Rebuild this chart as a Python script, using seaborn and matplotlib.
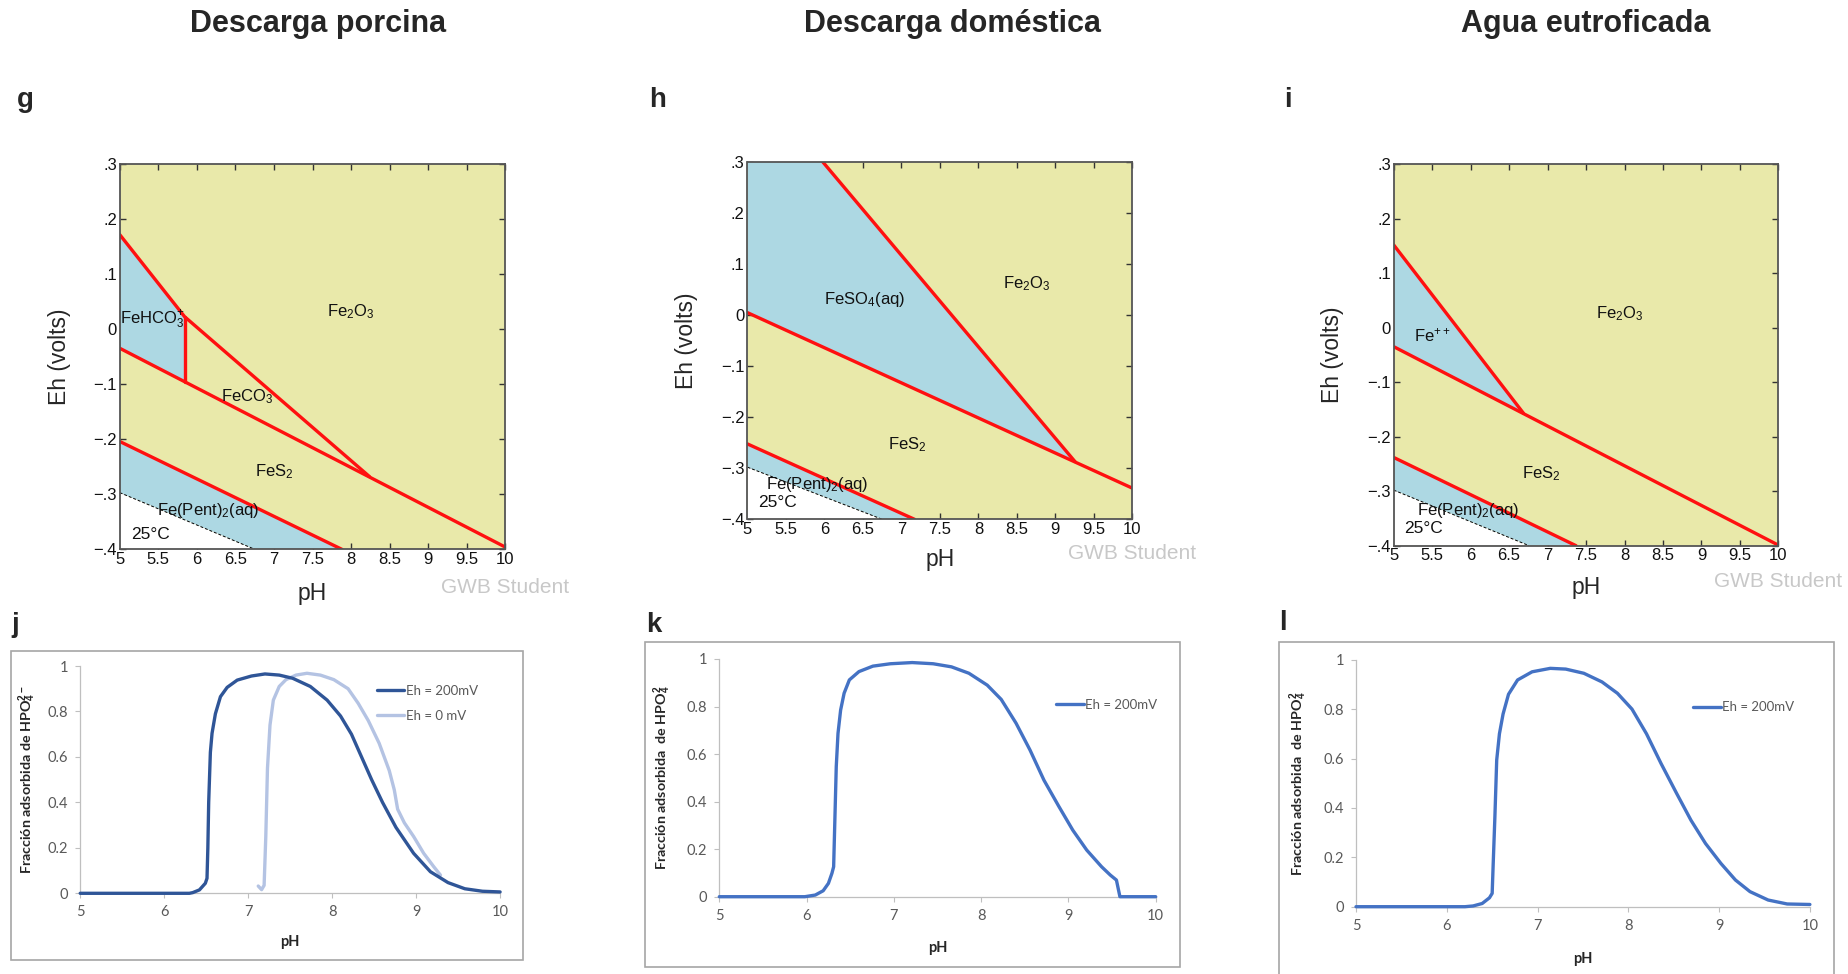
import numpy as np
import matplotlib
matplotlib.use("Agg")
import matplotlib.pyplot as plt
import seaborn as sns
from matplotlib.patches import Rectangle

# ------------------------------------------------------------------ data
TITLES = ["Descarga porcina", "Descarga doméstica", "Agua eutroficada"]
TOP_LETTERS = ["g", "h", "i"]
BOTTOM_LETTERS = ["j", "k", "l"]

PH_TICKS = [5, 5.5, 6, 6.5, 7, 7.5, 8, 8.5, 9, 9.5, 10]
PH_TICK_LABELS = ["5", "5.5", "6", "6.5", "7", "7.5", "8", "8.5", "9", "9.5", "10"]
EH_TICKS = [-0.4, -0.3, -0.2, -0.1, 0.0, 0.1, 0.2, 0.3]
EH_TICK_LABELS = ["\u2212.4", "\u2212.3", "\u2212.2", "\u2212.1", "0", ".1", ".2", ".3"]

# --- panel g (Descarga porcina): boundary lines (pH, Eh)
g_a_ph = [5.0, 5.84, 8.24]
g_a_eh = [0.172, 0.023, -0.268]
g_b_ph = [5.0, 10.0]
g_b_eh = [-0.0345, -0.396]
g_v_ph = [5.84, 5.84]
g_v_eh = [0.023, -0.095]
g_c_ph = [5.0, 7.88]
g_c_eh = [-0.204, -0.400]
g_w_ph = [5.0, 6.75]
g_w_eh = [-0.297, -0.400]
g_labels = [("Fe$_2$O$_3$", 8.0, 0.032, "center"),
            ("FeHCO$_3^{+}$", 5.0, 0.017, "left"),
            ("FeCO$_3$", 6.65, -0.122, "center"),
            ("FeS$_2$", 7.0, -0.259, "center"),
            ("Fe(Pent)$_2$(aq)", 6.14, -0.329, "center"),
            ("25°C", 5.4, -0.374, "center")]

# --- panel h (Descarga doméstica)
h_a_ph = [5.976, 9.255]
h_a_eh = [0.300, -0.287]
h_b_ph = [5.0, 10.0]
h_b_eh = [0.0045, -0.339]
h_c_ph = [5.0, 7.17]
h_c_eh = [-0.2525, -0.400]
h_w_ph = [5.0, 6.75]
h_w_eh = [-0.298, -0.400]
h_labels = [("Fe$_2$O$_3$", 8.63, 0.062, "center"),
            ("FeSO$_4$(aq)", 6.52, 0.031, "center"),
            ("FeS$_2$", 7.07, -0.2545, "center"),
            ("Fe(Pent)$_2$(aq)", 5.9, -0.332, "center"),
            ("25°C", 5.39, -0.368, "center")]

# --- panel i (Agua eutroficada)
i_a_ph = [5.0, 6.687]
i_a_eh = [0.152, -0.157]
i_b_ph = [5.0, 10.0]
i_b_eh = [-0.0347, -0.399]
i_c_ph = [5.0, 7.37]
i_c_eh = [-0.238, -0.400]
i_w_ph = [5.0, 6.76]
i_w_eh = [-0.298, -0.400]
i_labels = [("Fe$_2$O$_3$", 7.94, 0.0265, "center"),
            ("Fe$^{++}$", 5.5, -0.014, "center"),
            ("FeS$_2$", 6.92, -0.267, "center"),
            ("Fe(Pent)$_2$(aq)", 5.97, -0.335, "center"),
            ("25°C", 5.39, -0.369, "center")]

# --- bottom panels: adsorbed fraction of HPO4 2- vs pH
j_dark_ph = [5.0, 6.0, 6.3, 6.34, 6.42, 6.49, 6.51, 6.52, 6.53, 6.55, 6.57, 6.61,
             6.67, 6.75, 6.87, 7.04, 7.2, 7.37, 7.53, 7.74, 7.94, 8.1, 8.23, 8.35,
             8.47, 8.6, 8.76, 8.97, 9.17, 9.38, 9.58, 9.79, 10.0]
j_dark_y = [0.0, 0.0, 0.0, 0.003, 0.015, 0.044, 0.066, 0.2, 0.4, 0.62, 0.704, 0.79,
            0.865, 0.906, 0.938, 0.956, 0.965, 0.96, 0.946, 0.91, 0.85, 0.78, 0.70, 0.60,
            0.50, 0.40, 0.29, 0.176, 0.095, 0.047, 0.02, 0.009, 0.006]
j_light_ph = [7.12, 7.16, 7.19, 7.21, 7.23, 7.26, 7.3, 7.37, 7.45, 7.57, 7.7, 7.86,
              8.02, 8.19, 8.31, 8.43, 8.56, 8.68, 8.74, 8.78, 8.86, 8.97, 9.09, 9.21, 9.29]
j_light_y = [0.032, 0.016, 0.035, 0.25, 0.55, 0.74, 0.85, 0.91, 0.94, 0.96, 0.968, 0.96,
             0.94, 0.90, 0.836, 0.76, 0.66, 0.54, 0.455, 0.37, 0.31, 0.25, 0.176, 0.117, 0.08]
k_ph = [5.0, 5.98, 6.1, 6.19, 6.25, 6.29, 6.31, 6.32, 6.34, 6.36, 6.39, 6.43, 6.49,
        6.6, 6.76, 6.96, 7.21, 7.45, 7.66, 7.86, 8.07, 8.23, 8.4, 8.56, 8.72, 8.89,
        9.05, 9.21, 9.38, 9.48, 9.55, 9.59, 10.0]
k_y = [0.0, 0.0, 0.007, 0.025, 0.056, 0.098, 0.126, 0.266, 0.547, 0.687, 0.785, 0.856,
       0.912, 0.947, 0.97, 0.98, 0.985, 0.98, 0.967, 0.94, 0.89, 0.83, 0.73, 0.617, 0.49,
       0.38, 0.28, 0.196, 0.126, 0.091, 0.07, 0.0, 0.0]
l_ph = [5.0, 6.2, 6.29, 6.39, 6.47, 6.5, 6.51, 6.53, 6.55, 6.58, 6.62, 6.68, 6.78,
        6.94, 7.14, 7.31, 7.51, 7.71, 7.88, 8.04, 8.2, 8.36, 8.53, 8.69, 8.85, 9.02,
        9.18, 9.34, 9.54, 9.75, 10.0]
l_y = [0.0, 0.0, 0.003, 0.013, 0.036, 0.054, 0.16, 0.364, 0.594, 0.70, 0.78, 0.86,
       0.918, 0.951, 0.965, 0.962, 0.945, 0.91, 0.864, 0.80, 0.70, 0.58, 0.46, 0.35,
       0.256, 0.175, 0.108, 0.061, 0.027, 0.011, 0.009]

FRAC_TICKS = [0, 0.2, 0.4, 0.6, 0.8, 1.0]
FRAC_TICK_LABELS = ["0", "0.2", "0.4", "0.6", "0.8", "1"]
PH_INT_TICKS = [5, 6, 7, 8, 9, 10]
PH_INT_LABELS = ["5", "6", "7", "8", "9", "10"]
LEG_200 = "Eh = 200mV"
LEG_0 = "Eh = 0 mV"

# ------------------------------------------------------------------ style
sns.set_style("white")
plt.rcParams["font.family"] = ["Liberation Sans", "DejaVu Sans"]
plt.rcParams["mathtext.fontset"] = "custom"
plt.rcParams["mathtext.rm"] = "Liberation Sans"
plt.rcParams["mathtext.it"] = "Liberation Sans:italic"
plt.rcParams["mathtext.bf"] = "Liberation Sans:bold"
plt.rcParams["mathtext.default"] = "regular"

YELLOW = "#E9E9AA"
BLUE = "#ADD8E3"
RED = "#FF1010"
FRAME = "#555555"

W, H = 1849, 974
fig = plt.figure(figsize=(W / 100, H / 100), dpi=100)


def fbox(x0, y0, x1, y1):
    return [x0 / W, 1 - y1 / H, (x1 - x0) / W, (y1 - y0) / H]


# ------------------------------------------------------------------ top row
top_boxes = [(119.8, 164.3, 505.3, 549.3), (747.5, 161.7, 1132.3, 519.3),
             (1393.7, 164.3, 1778.4, 545.7)]
title_x = [318, 953, 1586]
letter_x = [25, 658, 1288]
ylab_x = [-0.126, -0.129, -0.129]
xlab_y = [-0.086, -0.081, -0.080]
gwb_y = [-0.099, -0.095, -0.094]

axes_top = [fig.add_axes(fbox(*b)) for b in top_boxes]


def boundary(ax, ph, eh):
    sns.lineplot(x=ph, y=eh, ax=ax, color=RED, lw=2.4, sort=False,
                 estimator=None, zorder=4)


def water(ax, ph, eh):
    sns.lineplot(x=ph, y=eh, ax=ax, color="black", lw=0.7, sort=False,
                 estimator=None, zorder=3, dashes=False, linestyle=(0, (3, 2)))


for k, ax in enumerate(axes_top):
    ax.set_facecolor(YELLOW)
    ax.set_xlim(5, 10)
    ax.set_ylim(-0.4, 0.3)

# g fills
ax = axes_top[0]
ax.fill(g_a_ph[:2] + g_v_ph[1:] + g_b_ph[:1], g_a_eh[:2] + g_v_eh[1:] + g_b_eh[:1],
        color=BLUE, lw=0, zorder=1)
ax.fill(g_c_ph + g_w_ph[::-1], g_c_eh + g_w_eh[::-1], color=BLUE, lw=0, zorder=1)
ax.fill(g_w_ph + [5.0], g_w_eh + [-0.4], color="white", lw=0, zorder=1)
water(ax, g_w_ph, g_w_eh)
for ph, eh in [(g_a_ph, g_a_eh), (g_b_ph, g_b_eh), (g_v_ph, g_v_eh), (g_c_ph, g_c_eh)]:
    boundary(ax, ph, eh)

# h fills
ax = axes_top[1]
ax.fill([5.0] + h_a_ph + h_b_ph[:1], [0.3] + h_a_eh + h_b_eh[:1], color=BLUE, lw=0, zorder=1)
ax.fill(h_c_ph + h_w_ph[::-1], h_c_eh + h_w_eh[::-1], color=BLUE, lw=0, zorder=1)
ax.fill(h_w_ph + [5.0], h_w_eh + [-0.4], color="white", lw=0, zorder=1)
water(ax, h_w_ph, h_w_eh)
for ph, eh in [(h_a_ph, h_a_eh), (h_b_ph, h_b_eh), (h_c_ph, h_c_eh)]:
    boundary(ax, ph, eh)

# i fills
ax = axes_top[2]
ax.fill(i_a_ph + i_b_ph[:1], i_a_eh + i_b_eh[:1], color=BLUE, lw=0, zorder=1)
ax.fill(i_c_ph + i_w_ph[::-1], i_c_eh + i_w_eh[::-1], color=BLUE, lw=0, zorder=1)
ax.fill(i_w_ph + [5.0], i_w_eh + [-0.4], color="white", lw=0, zorder=1)
water(ax, i_w_ph, i_w_eh)
for ph, eh in [(i_a_ph, i_a_eh), (i_b_ph, i_b_eh), (i_c_ph, i_c_eh)]:
    boundary(ax, ph, eh)

for k, (ax, labels) in enumerate(zip(axes_top, [g_labels, h_labels, i_labels])):
    for txt, ph, eh, ha in labels:
        size = 12.5 if "°" in txt else 12
        ax.text(ph, eh, txt, ha=ha, va="center", fontsize=size, color="#111111", zorder=6)
    ax.set_xticks(PH_TICKS)
    ax.set_xticklabels(PH_TICK_LABELS)
    ax.set_yticks(EH_TICKS)
    ax.set_yticklabels(EH_TICK_LABELS)
    ax.tick_params(direction="in", length=4, width=1, color="#333333", labelsize=12,
                   top=True, right=True, left=True, bottom=True, pad=2,
                   labelcolor="#111111")
    for s in ax.spines.values():
        s.set_color(FRAME)
        s.set_linewidth(1.3)
        s.set_zorder(7)
    ax.set_xlabel("pH", fontsize=16.5)
    ax.set_ylabel("Eh (volts)", fontsize=16.5)
    ax.xaxis.set_label_coords(0.5, xlab_y[k])
    ax.yaxis.set_label_coords(ylab_x[k], 0.5)
    ax.text(1.0, gwb_y[k], "GWB Student", transform=ax.transAxes, ha="center",
            va="center", fontsize=15, color="#C8C8C8")
    fig.text(title_x[k] / W, 1 - 24 / H, TITLES[k], ha="center", va="center",
             fontsize=22, fontweight="bold")
    fig.text(letter_x[k] / W, 1 - 100 / H, TOP_LETTERS[k], ha="center", va="center",
             fontsize=20, fontweight="bold")

# ------------------------------------------------------------------ bottom row
bot_boxes = [(80.2, 666, 500.1, 893.3), (719.3, 659, 1155.7, 896.7),
             (1356.0, 659.7, 1809.9, 906.7)]
frames = [(11.4, 650.7, 523.5, 960), (645.4, 642.3, 1180, 967.3),
          (1279.2, 642.3, 1834.3, 985)]
blet_xy = [(15, 625), (654, 625), (1283, 623)]
bylab_x = [-0.100, -0.105, -0.104]
bxlab_y = [-0.183, -0.185, -0.182]
ylabels = ["Fracción adsorbida de HPO$_\\mathbf{4}^\\mathbf{2-}$",
           "Fracción adsorbida  de HPO$_\\mathbf{4}^\\mathbf{2}$",
           "Fracción adsorbida  de HPO$_\\mathbf{4}^\\mathbf{2}$"]
leg_anchor = [(0.706, 0.835), (0.772, 0.806), (0.743, 0.808)]

DARK = "#2F5597"
LIGHT = "#B4C3E3"
MID = "#4472C4"
TXT = "#595959"

for k, b in enumerate(bot_boxes):
    x0, y0, x1, y1 = frames[k]
    fig.add_artist(Rectangle((x0 / W, 1 - y1 / H), (x1 - x0) / W, (y1 - y0) / H,
                             transform=fig.transFigure, fill=False, ec="#A6A6A6", lw=1.2))
    ax = fig.add_axes(fbox(*b))
    ax.set_facecolor("none")
    if k == 0:
        sns.lineplot(x=j_dark_ph, y=j_dark_y, ax=ax, color=DARK, lw=2.4, sort=False,
                     estimator=None, label=LEG_200, clip_on=False, zorder=4)
        sns.lineplot(x=j_light_ph, y=j_light_y, ax=ax, color=LIGHT, lw=2.4, sort=False,
                     estimator=None, label=LEG_0, clip_on=False, zorder=3)
    elif k == 1:
        sns.lineplot(x=k_ph, y=k_y, ax=ax, color=MID, lw=2.4, sort=False,
                     estimator=None, label=LEG_200, clip_on=False, zorder=4)
    else:
        sns.lineplot(x=l_ph, y=l_y, ax=ax, color=MID, lw=2.4, sort=False,
                     estimator=None, label=LEG_200, clip_on=False, zorder=4)
    for line in ax.get_lines():
        line.set_solid_joinstyle("round")
        line.set_solid_capstyle("round")
    ax.set_xlim(5, 10)
    ax.set_ylim(0, 1)
    ax.set_xticks(PH_INT_TICKS)
    ax.set_xticklabels(PH_INT_LABELS)
    ax.set_yticks(FRAC_TICKS)
    ax.set_yticklabels(FRAC_TICK_LABELS)
    for lab in ax.get_xticklabels() + ax.get_yticklabels():
        lab.set_family(["Lato", "DejaVu Sans"])
    ax.tick_params(direction="out", length=3.5, width=0.8, color="#BFBFBF",
                   labelsize=10.5, labelcolor=TXT, pad=5, left=True, bottom=True)
    for side in ["top", "right"]:
        ax.spines[side].set_visible(False)
    for side in ["left", "bottom"]:
        ax.spines[side].set_color("#BFBFBF")
        ax.spines[side].set_linewidth(0.9)
    ax.set_xlabel("pH", fontsize=10.5, fontweight="bold", family=["Lato", "DejaVu Sans"])
    ax.set_ylabel(ylabels[k], fontsize=10.3, fontweight="bold", family=["Lato", "DejaVu Sans"])
    ax.xaxis.set_label_coords(0.5, bxlab_y[k])
    ax.yaxis.set_label_coords(bylab_x[k], 0.5)
    leg = ax.legend(loc="center left", bbox_to_anchor=leg_anchor[k], frameon=False,
                    borderpad=0, borderaxespad=0, handlelength=2.1, handletextpad=0.1,
                    labelspacing=1.0, prop={"family": ["Lato", "DejaVu Sans"], "size": 9.5})
    for t in leg.get_texts():
        t.set_color(TXT)
    lx, ly = blet_xy[k]
    fig.text(lx / W, 1 - ly / H, BOTTOM_LETTERS[k], ha="center", va="center",
             fontsize=20, fontweight="bold")

fig.savefig("out.png", dpi=100)
